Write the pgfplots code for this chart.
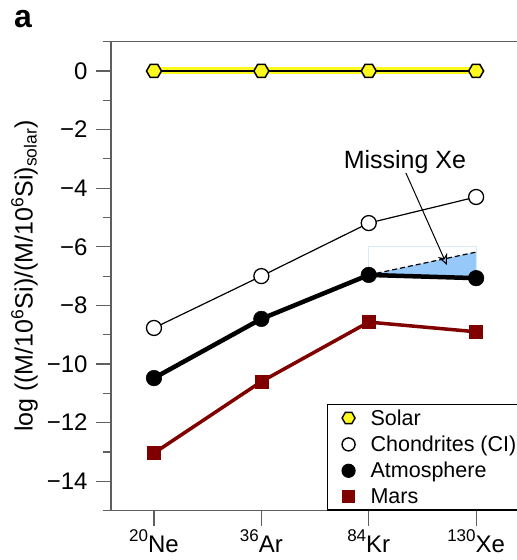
\documentclass[border=0pt]{standalone}
\usepackage{pgfplots}
\pgfplotsset{compat=1.18}
\usepackage{fontspec}
\setmainfont{Liberation Sans}
\usetikzlibrary{arrows.meta}
\definecolor{axcol}{RGB}{95,95,95}
\definecolor{marsred}{RGB}{128,0,0}
\definecolor{solaryel}{RGB}{255,250,30}
\definecolor{missblue}{RGB}{150,200,250}
\definecolor{boxblue}{RGB}{215,235,250}
\pgfdeclareplotmark{hexagon}{%
  \pgfpathmoveto{\pgfpoint{\pgfplotmarksize}{0pt}}%
  \pgfpathlineto{\pgfpoint{0.5\pgfplotmarksize}{0.866\pgfplotmarksize}}%
  \pgfpathlineto{\pgfpoint{-0.5\pgfplotmarksize}{0.866\pgfplotmarksize}}%
  \pgfpathlineto{\pgfpoint{-\pgfplotmarksize}{0pt}}%
  \pgfpathlineto{\pgfpoint{-0.5\pgfplotmarksize}{-0.866\pgfplotmarksize}}%
  \pgfpathlineto{\pgfpoint{0.5\pgfplotmarksize}{-0.866\pgfplotmarksize}}%
  \pgfpathclose
  \pgfusepathqfillstroke}
\pgfplotsset{mylegend/.style={legend image code/.code={%
  \path[draw=none, fill=none] (0pt,-6pt) rectangle (35pt,6pt);
  \draw[mark repeat=2,mark phase=2,##1] plot coordinates {(0pt,0pt)(15pt,0pt)(30pt,0pt)};}}}
\pgfplotstableread{
x y
0 0
1 0
2 0
3 0
}\solar
\pgfplotstableread{
x y
0 -8.77
1 -7.0
2 -5.19
3 -4.3
}\chond
\pgfplotstableread{
x y
0 -10.48
1 -8.46
2 -6.96
3 -7.07
}\atmos
\pgfplotstableread{
x y
0 -13.04
1 -10.6
2 -8.57
3 -8.9
}\mars
\begin{document}
\begin{tikzpicture}
\begin{axis}[
  scale only axis,
  width=405.9pt, height=468.8pt,
  xmin=-0.4, xmax=3.38, ymin=-15, ymax=1,
  clip=false,
  axis lines=left,
  axis line style={draw=none},
  tick align=outside,
  major tick length=15pt, minor tick length=8pt,
  tick style={axcol, line width=1.2pt},
  xtick={0,1,2,3},
  xticklabels={{\raisebox{0.45em}{\fontsize{17}{17}\selectfont 20}Ne},
               {\raisebox{0.45em}{\fontsize{17}{17}\selectfont 36}Ar},
               {\raisebox{0.45em}{\fontsize{17}{17}\selectfont 84}Kr},
               {\raisebox{0.45em}{\fontsize{17}{17}\selectfont 130}Xe}},
  x tick label style={font=\fontsize{24}{24}\selectfont, anchor=north, yshift=-1pt},
  ytick={-14,-12,-10,-8,-6,-4,-2,0},
  yticklabels={−14,−12,−10,−8,−6,−4,−2,0},
  minor ytick={-15,-13,-11,-9,-7,-5,-3,-1},
  y tick label style={font=\fontsize{24}{24}\selectfont, xshift=-5pt},
  legend cell align=left,
  legend style={at={(axis cs:1.611,-15)}, anchor=south west, draw=black, line width=1.2pt,
    font=\fontsize{21.5}{24}\selectfont, inner xsep=6pt, inner ysep=3pt, row sep=5.3pt,
    /tikz/every even column/.append style={column sep=0pt}},
]
% axis frame
\draw[axcol, line width=1.5pt] (axis cs:-0.475,1) -- (axis cs:3.6,1);
\draw[axcol, line width=1.5pt] (axis cs:-0.475,-15) -- (axis cs:3.6,-15);
\draw[axcol, line width=1.5pt] (axis cs:-0.4,-15) -- (axis cs:-0.4,1);
% missing Xe region
\addplot[fill=missblue, draw=none, forget plot] coordinates {(2,-6.96) (3,-6.18) (3,-7.07)} -- cycle;
\addplot[draw=boxblue, line width=0.8pt, forget plot] coordinates {(2,-7) (2,-6) (3,-6) (3,-7)};
\addplot[black, line width=1.2pt, dash pattern=on 5pt off 3pt, forget plot] coordinates {(2,-6.96) (3,-6.18)};
% series
\addplot[solaryel, line width=7pt, forget plot] table[x=x,y=y] {\solar};
\addplot[black, line width=2.2pt, mark=hexagon, mark size=7.5pt, mark options={fill=solaryel, draw=black, line width=1.5pt}, forget plot] table[x=x,y=y] {\solar};
\addplot[black, line width=1.2pt, mark=*, mark size=7.5pt, mark options={fill=white, draw=black, line width=1.3pt}, forget plot] table[x=x,y=y] {\chond};
\addplot[black, line width=4.5pt, mark=*, mark size=7.8pt, mark options={fill=black, draw=black, line width=0.5pt}, forget plot] table[x=x,y=y] {\atmos};
\addplot[marsred, line width=3.5pt, mark=square*, mark size=6.5pt, mark options={fill=marsred, draw=marsred, line width=0.5pt}, forget plot] table[x=x,y=y] {\mars};
% legend
\addlegendimage{only marks, mylegend, mark=hexagon, mark size=6.5pt, mark options={fill=solaryel, draw=black, line width=1.4pt}}
\addlegendentry{Solar}
\addlegendimage{only marks, mylegend, mark=*, mark size=6.5pt, mark options={fill=white, draw=black, line width=1.4pt}}
\addlegendentry{Chondrites (CI)\hspace{10pt}}
\addlegendimage{only marks, mylegend, mark=*, mark size=6.5pt, mark options={fill=black, draw=black}}
\addlegendentry{Atmosphere}
\addlegendimage{only marks, mylegend, mark=square*, mark size=6pt, mark options={fill=marsred, draw=marsred}}
\addlegendentry{Mars}
% annotations
\node[anchor=base, font=\fontsize{25}{25}\selectfont, inner sep=0pt] at (axis cs:2.337,-3.311) {Missing Xe};
\draw[black, line width=1pt, -{Stealth[open, length=11pt, width=10pt]}] (axis cs:2.346,-3.48) -- (axis cs:2.728,-6.62);
\node[rotate=90, anchor=base, font=\fontsize{25}{28}\selectfont, inner sep=0pt] at (axis cs:-1.131,-7) {log ((M/10\textsuperscript{6}Si)/(M/10\textsuperscript{6}Si)\textsubscript{solar})};
\node[anchor=base west, inner sep=0pt, font=\bfseries\fontsize{32}{32}\selectfont] at (axis cs:-1.3035,1.4676) {a};
\coordinate (bbA) at (axis cs:-1.4339,2.4232);
\coordinate (bbB) at (axis cs:3.380,-16.689);
\end{axis}
\pgfresetboundingbox
\path[use as bounding box] (bbA) rectangle (bbB);
\end{tikzpicture}
\end{document}
